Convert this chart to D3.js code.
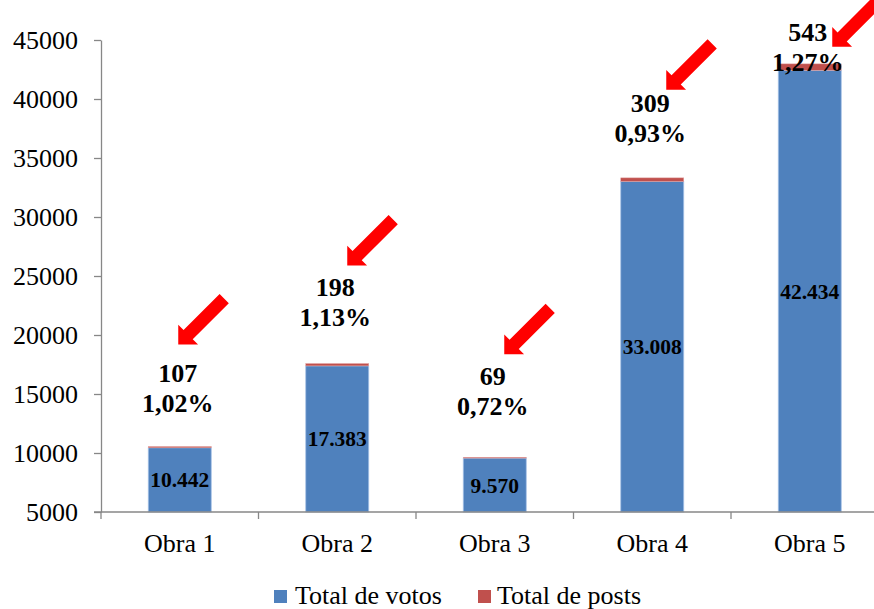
<!DOCTYPE html>
<html>
<head>
<meta charset="utf-8">
<script src="https://cdn.jsdelivr.net/npm/d3@7/dist/d3.min.js"></script>
<style>
  html, body { margin: 0; padding: 0; background: #fff; }
  svg { display: block; }
  svg text { font-family: "Liberation Serif", "Times New Roman", serif !important; fill: #000; }
</style>
</head>
<body>
<svg id="chart" width="874" height="609"></svg>
<script>
// ---- data ----
const categories = ["Obra 1", "Obra 2", "Obra 3", "Obra 4", "Obra 5"];
const votos = [10442, 17383, 9570, 33008, 42434];
const posts = [107, 198, 69, 309, 543];
const percentLabels = ["1,02%", "1,13%", "0,72%", "0,93%", "1,27%"];
const yTicks = [5000, 10000, 15000, 20000, 25000, 30000, 35000, 40000, 45000];
const seriesNames = ["Total de votos", "Total de posts"];

// ---- annotation layout (pixels) ----
const labelLift = [35, 38, 42, 36, -7];          // percent-label baseline above bar top
const arrowOffset = [[-1.5, -67], [10, -60], [9.5, -61], [14, -52], [22.5, -24]]; // tip rel. to bar centre / percent baseline

const colors = ["#4F81BD", "#C0504D"];
const axisColor = "#878787";
const FONT = '"Liberation Serif", "Times New Roman", serif';

const svg = d3.select("#chart");
const plotLeft = 101, plotRight = 888.5, plotTop = 40, plotBottom = 512;

const x = d3.scaleBand().domain(categories).range([plotLeft, plotRight]).padding(0);
const y = d3.scaleLinear().domain([5000, 45000]).range([plotBottom, plotTop]);
const barW = x.bandwidth() * 0.4;
const fmt = d3.formatLocale({decimal: ",", thousands: ".", grouping: [3], currency: ["", ""]}).format(",d");

// bars
const g = svg.append("g");
categories.forEach((c, i) => {
  const cx = x(c) + x.bandwidth() / 2;
  const v0 = votos[i], v1 = votos[i] + posts[i];
  g.append("rect")
    .attr("x", cx - barW / 2).attr("width", barW)
    .attr("y", y(v0)).attr("height", y(5000) - y(v0))
    .attr("fill", colors[0]).attr("stroke", "#a7c2e6").attr("stroke-width", 0.8);
  g.append("rect")
    .attr("x", cx - barW / 2).attr("width", barW)
    .attr("y", y(v1)).attr("height", y(v0) - y(v1))
    .attr("fill", colors[1]).attr("stroke", "#e4a3a2").attr("stroke-width", 0.5);
});

// y axis
const yAxis = d3.axisLeft(y).tickValues(yTicks).tickFormat(d3.format("d")).tickSizeInner(7).tickSizeOuter(0).tickPadding(16);
const ya = svg.append("g").attr("transform", `translate(${plotLeft},0)`).call(yAxis)
  .attr("font-family", FONT).attr("font-size", 26);
ya.selectAll("text").style("font-family", FONT).style("font-size", "26px").attr("fill", "#000");
ya.selectAll("line").attr("stroke", axisColor).attr("stroke-width", 1.3);
ya.select(".domain").attr("stroke", axisColor).attr("stroke-width", 1.3);

// x axis
const xAxis = d3.axisBottom(x).tickSize(0).tickPadding(21.5);
const xa = svg.append("g").attr("transform", `translate(0,${plotBottom})`).call(xAxis)
  .attr("font-family", FONT).attr("font-size", 26);
xa.select(".domain").remove();
xa.selectAll("text").style("font-family", FONT).style("font-size", "26px").attr("fill", "#000");
svg.append("line").attr("x1", plotLeft - 7).attr("x2", plotRight).attr("y1", plotBottom).attr("y2", plotBottom)
  .attr("stroke", axisColor).attr("stroke-width", 1.3);
categories.forEach(c => {
  svg.append("line").attr("x1", x(c)).attr("x2", x(c)).attr("y1", plotBottom).attr("y2", plotBottom + 7)
    .attr("stroke", axisColor).attr("stroke-width", 1.3);
});

// value labels inside blue bars
categories.forEach((c, i) => {
  const cx = x(c) + x.bandwidth() / 2;
  svg.append("text")
    .attr("x", cx).attr("y", (y(votos[i]) + y(5000)) / 2).attr("dy", "0.35em")
    .attr("text-anchor", "middle").style("font-size", "21.5px").style("font-weight", "bold")
    .text(fmt(votos[i]));
});

// posts labels + arrows
categories.forEach((c, i) => {
  const cx = x(c) + x.bandwidth() / 2;
  const base = y(votos[i] + posts[i]) - labelLift[i];
  svg.append("text").attr("x", cx - 2).attr("y", base - 30).attr("text-anchor", "middle")
    .style("font-size", "26px").style("font-weight", "bold").text(posts[i]);
  svg.append("text").attr("x", cx - 2).attr("y", base).attr("text-anchor", "middle")
    .style("font-size", "26px").style("font-weight", "bold").text(percentLabels[i]);

  const tx = cx + arrowOffset[i][0], ty = base + arrowOffset[i][1];
  const s = Math.SQRT1_2;
  const u = [s, -s], n = [s, s];
  const L = 65, h = 14, hw = 14, sw = 6.5;
  const B = [tx + h * u[0], ty + h * u[1]];
  const T = [tx + L * u[0], ty + L * u[1]];
  const p = (P, k) => [P[0] + k * n[0], P[1] + k * n[1]];
  const pts = [[tx, ty], p(B, hw), p(B, sw), p(T, sw), p(T, -sw), p(B, -sw), p(B, -hw)];
  svg.append("path").attr("d", d3.line()(pts) + "Z").attr("fill", "#FF0000");
});

// legend
const legendItems = [{x: 274, tx: 295}, {x: 478, tx: 497}];
seriesNames.forEach((name, i) => {
  svg.append("rect").attr("x", legendItems[i].x).attr("y", 590).attr("width", 13).attr("height", 13).attr("fill", colors[i]);
  svg.append("text").attr("x", legendItems[i].tx).attr("y", 604).style("font-size", "26px").text(name);
});
</script>
</body>
</html>
